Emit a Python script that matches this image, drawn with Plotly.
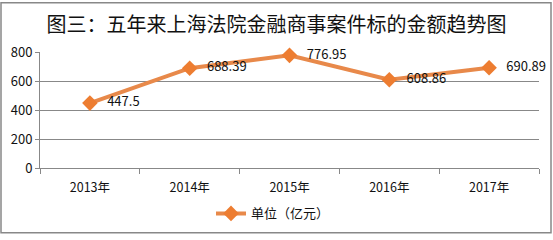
import plotly.graph_objects as go

years = ["2013年", "2014年", "2015年", "2016年", "2017年"]
values = [447.5, 688.39, 776.95, 608.86, 690.89]
labels = ["447.5", "688.39", "776.95", "608.86", "690.89"]
series_name = "单位（亿元）"
y_ticks = [0, 200, 400, 600, 800]

W, H = 553, 240
L, R, T, B = 40, 14, 52, 68
pw, ph = W - L - R, H - T - B

def px(x):
    return (x - L) / pw

def py(y):
    return (H - B - y) / ph

font = "Noto Sans CJK SC, Microsoft YaHei, sans-serif"

fig = go.Figure()
fig.add_trace(go.Scatter(
    x=years, y=values, name=series_name,
    mode="lines+markers+text",
    text=["   " + t for t in labels],
    textposition="middle right",
    textfont=dict(family=font, size=13, color="#111111"),
    line=dict(color="#E8894A", width=4),
    marker=dict(symbol="diamond", size=12, color="#ED7D31"),
    cliponaxis=False,
))

fig.update_layout(
    width=W, height=H,
    margin=dict(l=L, r=R, t=T, b=B),
    paper_bgcolor="white", plot_bgcolor="white",
    title=dict(text="图三：五年来上海法院金融商事案件标的金额趋势图",
               x=0.5, xanchor="center", y=1 - 25 / H, yanchor="middle",
               yref="container",
               font=dict(family=font, size=20, color="#111111")),
    xaxis=dict(type="category", showgrid=False, showline=True,
               linecolor="#888888", linewidth=1,
               ticks="outside", tickson="boundaries", ticklen=5,
               tickcolor="#888888", ticklabelstandoff=8,
               tickfont=dict(family=font, size=12.5, color="#111111"),
               range=[-0.5, 4.5]),
    yaxis=dict(range=[0, 800], tickvals=y_ticks, showgrid=True,
               gridcolor="#888888", gridwidth=1,
               showline=True, linecolor="#888888", linewidth=1,
               ticks="outside", ticklen=4, tickcolor="#888888",
               zeroline=False,
               tickfont=dict(family=font, size=13, color="#111111")),
    showlegend=True,
    legend=dict(orientation="h", x=px(273), xanchor="center",
                y=py(219), yanchor="middle",
                font=dict(family=font, size=13, color="#111111"),
                bgcolor="rgba(0,0,0,0)"),
    shapes=[dict(type="rect", xref="paper", yref="paper",
                 x0=px(1), x1=px(551), y0=py(239), y1=py(1),
                 line=dict(color="#888888", width=1.5))],
)

fig.write_html("out.html")
